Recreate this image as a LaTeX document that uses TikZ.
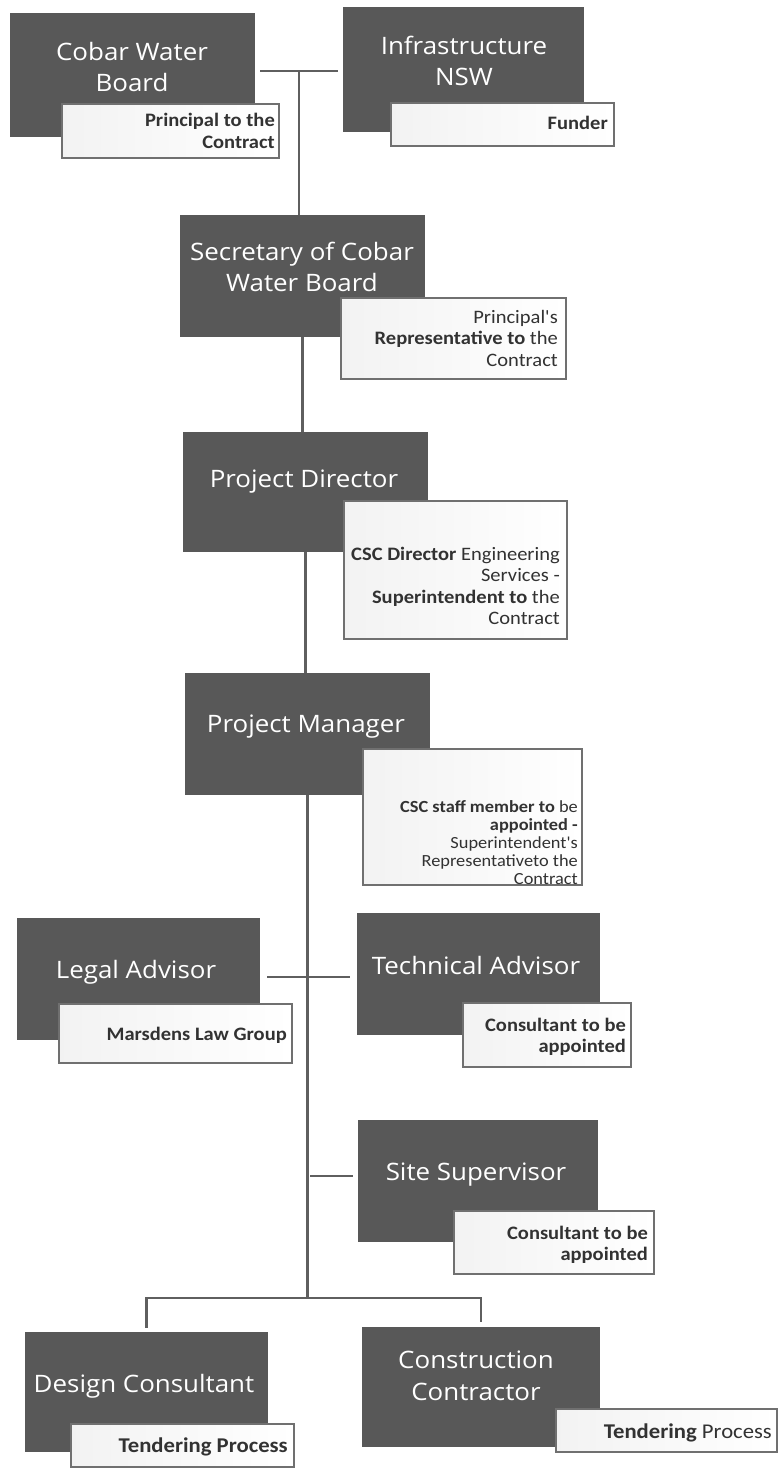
\documentclass[tikz,border=0pt]{standalone}
\usepackage{fontspec}
\newfontfamily\titlefont[FakeStretch=1.08]{Open Sans}
\newfontfamily\notefont[FakeStretch=1.08]{Carlito}
\definecolor{box_gray}{RGB}{88,88,88}
\definecolor{frame_gray}{RGB}{112,112,112}
\definecolor{line_gray}{RGB}{95,95,95}
\definecolor{note_ink}{RGB}{50,50,50}

\begin{document}
\begin{tikzpicture}[
  x=1pt, y=-1pt,
  dark_box/.style={rectangle, inner sep=0pt, fill=box_gray},
  title_text/.style={align=center, text=white, inner sep=0pt, font=\titlefont\fontsize{24}{31.5}\selectfont},
  note_box/.style={rectangle, inner sep=0pt, draw=frame_gray, line width=2pt, left color=black!5, middle color=white, right color=white},
  note_text/.style={align=right, anchor=east, inner sep=0pt, text=note_ink, font=\notefont\fontsize{19}{21.5}\selectfont},
  link/.style={draw=line_gray, line width=2.5pt},
]
\useasboundingbox (0,0) rectangle (779,1469);

% top row
\draw (132.5,75) node (cwb) [dark_box, minimum width=245pt, minimum height=124pt] {};
\draw (132,67) node (cwb_t) [title_text] {Cobar Water\\Board};
\draw (170.5,131) node (cwb_n) [note_box, minimum width=217pt, minimum height=54pt] {};
\draw (275,131) node (cwb_nt) [note_text] {\textbf{Principal to the}\\\textbf{Contract}};

\draw (463.5,69.5) node (insw) [dark_box, minimum width=241pt, minimum height=125pt] {};
\draw (464,61) node (insw_t) [title_text] {Infrastructure\\NSW};
\draw (502.5,124.5) node (insw_n) [note_box, minimum width=223pt, minimum height=43pt] {};
\draw (608,123) node (insw_nt) [note_text] {\textbf{Funder}};

% chain of command
\draw (302.5,276) node (sec) [dark_box, minimum width=245pt, minimum height=122pt] {};
\draw (302,267) node (sec_t) [title_text] {Secretary of Cobar\\Water Board};
\draw (453.5,338.5) node (sec_n) [note_box, minimum width=225pt, minimum height=81pt] {};
\draw (558,338) node (sec_nt) [note_text] {Principal's\\\textbf{Representative to} the\\Contract};

\draw (305.5,492) node (pd) [dark_box, minimum width=245pt, minimum height=120pt] {};
\draw (304,482) node (pd_t) [title_text] {Project Director};
\draw (455.5,570) node (pd_n) [note_box, minimum width=223pt, minimum height=138pt] {};
\draw (560,586) node (pd_nt) [note_text] {\textbf{CSC Director} Engineering\\Services -\\\textbf{Superintendent to} the\\Contract};

\draw (307.5,734) node (pm) [dark_box, minimum width=245pt, minimum height=122pt] {};
\draw (306,727) node (pm_t) [title_text] {Project Manager};
\draw (472.5,817) node (pm_n) [note_box, minimum width=219pt, minimum height=136pt] {};
\draw (578,843) node (pm_nt) [note_text, font=\notefont\fontsize{17}{18}\selectfont] {\textbf{CSC staff member to} be\\\textbf{appointed -}\\Superintendent's\\Representativeto the\\Contract};

% advisors
\draw (138.5,979) node (la) [dark_box, minimum width=243pt, minimum height=122pt] {};
\draw (136,972) node (la_t) [title_text] {Legal Advisor};
\draw (175.5,1033.5) node (la_n) [note_box, minimum width=233pt, minimum height=59pt] {};
\draw (287,1035) node (la_nt) [note_text] {\textbf{Marsdens Law Group}};

\draw (478.5,974) node (ta) [dark_box, minimum width=243pt, minimum height=122pt] {};
\draw (476,965) node (ta_t) [title_text] {Technical Advisor};
\draw (547,1035) node (ta_n) [note_box, minimum width=168pt, minimum height=64pt] {};
\draw (626,1037) node (ta_nt) [note_text] {\textbf{Consultant to be}\\\textbf{appointed}};

\draw (478,1181) node (ss) [dark_box, minimum width=240pt, minimum height=122pt] {};
\draw (476,1175) node (ss_t) [title_text] {Site Supervisor};
\draw (554,1242.5) node (ss_n) [note_box, minimum width=200pt, minimum height=63pt] {};
\draw (648,1245) node (ss_nt) [note_text] {\textbf{Consultant to be}\\\textbf{appointed}};

% tendering
\draw (146.5,1392) node (dc) [dark_box, minimum width=243pt, minimum height=120pt] {};
\draw (144,1386) node (dc_t) [title_text] {Design Consultant};
\draw (182.5,1445.5) node (dc_n) [note_box, minimum width=223pt, minimum height=43pt] {};
\draw (288,1447) node (dc_nt) [note_text, font=\notefont\fontsize{21}{24}\selectfont] {\textbf{Tendering Process}};

\draw (481,1387) node (cc) [dark_box, minimum width=238pt, minimum height=120pt] {};
\draw (476,1376) node (cc_t) [title_text] {Construction\\Contractor};
\draw (666.5,1430.5) node (cc_n) [note_box, minimum width=221pt, minimum height=43pt] {};
\draw (772,1433) node (cc_nt) [note_text, font=\notefont\fontsize{21}{24}\selectfont] {\textbf{Tendering} Process};

% connectors
\coordinate (j_top) at (299,71);
\coordinate (j_adv) at (310,977);
\coordinate (j_site) at (310,1176);
\coordinate (j_bot) at (310,1298);
\draw [link, shorten <=5pt, shorten >=5pt] (cwb.east |- j_top) -- (insw.west |- j_top);
\draw [link] (j_top) -- (j_top |- sec.north);
\draw [link] (sec.south) -- (sec.south |- pd.north);
\draw [link] (pd.south) -- (pd.south |- pm.north);
\draw [link] (pm.south) -- (pm.south |- j_bot);
\draw [link, shorten <=7pt, shorten >=7pt] (la.east |- j_adv) -- (ta.west |- j_adv);
\draw [link, shorten >=5pt] (j_site) -- (ss.west |- j_site);
\draw [link, shorten <=4pt, shorten >=5pt] (dc.north) -- (dc.north |- j_bot) -- (cc.north |- j_bot) -- (cc.north);
\end{tikzpicture}
\end{document}
